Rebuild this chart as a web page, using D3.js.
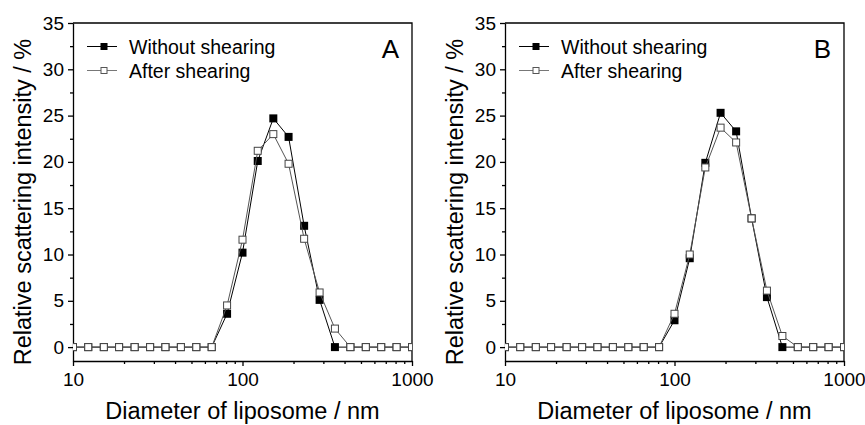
<!DOCTYPE html>
<html>
<head>
<meta charset="utf-8">
<script src="https://cdn.jsdelivr.net/npm/d3@7"></script>
<style>
  body { margin: 0; background: #fff; }
  svg { display: block; font-family: "Liberation Sans", Arial, sans-serif; }
  .axis path, .axis line { stroke: #000; stroke-width: 1.3; }
  .axis text { fill: #000; font-family: "Liberation Sans", Arial, sans-serif; }
</style>
</head>
<body>
<div id="chart"></div>
<script>
// diameters (nm) of the size classes
var diameters = [10, 12.3, 15.2, 18.7, 23.1, 28.5, 35.1, 43.3, 53.4, 65.8, 81.1,
  100, 123, 152, 187, 231, 285, 351, 433, 534, 658, 811, 1000];

// panel A
var aWithout = [0, 0, 0, 0, 0, 0, 0, 0, 0, 0, 3.6, 10.2, 20.1, 24.7, 22.7, 13.1, 5.1, 0, 0, 0, 0, 0, 0];
var aAfter   = [0, 0, 0, 0, 0, 0, 0, 0, 0, 0, 4.5, 11.6, 21.2, 23.0, 19.8, 11.7, 5.9, 2.0, 0, 0, 0, 0, 0];
// panel B
var bWithout = [0, 0, 0, 0, 0, 0, 0, 0, 0, 0, 0, 2.9, 9.6, 19.9, 25.3, 23.3, 13.9, 5.4, 0, 0, 0, 0, 0];
var bAfter   = [0, 0, 0, 0, 0, 0, 0, 0, 0, 0, 0, 3.6, 10.0, 19.4, 23.7, 22.1, 13.9, 6.1, 1.2, 0, 0, 0, 0];

var xMajor = [10, 100, 1000];
var xMinor = [20, 30, 40, 50, 60, 70, 80, 90, 200, 300, 400, 500, 600, 700, 800, 900];
var yMajor = [0, 5, 10, 15, 20, 25, 30, 35];
var yMinor = [2.5, 7.5, 12.5, 17.5, 22.5, 27.5, 32.5];

var seriesNames = ["Without shearing", "After shearing"];
var panels = [
  { letter: "A", without: aWithout, after: aAfter },
  { letter: "B", without: bWithout, after: bAfter }
];

var svgWidth = 865;
var svgHeight = 425;
var margin = { top: 23, left: 73 };
var width = 339;
var height = 338;
var panelGap = 432;

var svg = d3.select("#chart")
  .append("svg")
  .attr("width", svgWidth)
  .attr("height", svgHeight);

var xScale = d3.scaleLog().domain([10, 1000]).range([0, width]);
var yScale = d3.scaleLinear().domain([-1.5, 35]).range([height, 0]);

var msize = 8;

function drawSeries(g, values, filled) {
  var pts = diameters.map(function(d, i) { return [d, values[i]]; });
  var line = d3.line()
    .x(function(d) { return xScale(d[0]); })
    .y(function(d) { return yScale(d[1]); });

  g.append("path")
    .datum(pts)
    .attr("d", line)
    .attr("fill", "none")
    .attr("stroke", filled ? "#000" : "#555")
    .attr("stroke-width", 1);

  var s = filled ? msize : msize - 1;
  g.selectAll(null)
    .data(pts)
    .enter()
    .append("rect")
    .attr("x", function(d) { return xScale(d[0]) - s / 2; })
    .attr("y", function(d) { return yScale(d[1]) - s / 2; })
    .attr("width", s)
    .attr("height", s)
    .attr("fill", filled ? "#000" : "#fff")
    .attr("stroke", filled ? "none" : "#444")
    .attr("stroke-width", 1);
}

panels.forEach(function(p, k) {
  var ox = margin.left + k * panelGap;
  var chartGroup = svg.append("g")
    .attr("transform", "translate(" + ox + "," + margin.top + ")");

  svg.append("clipPath")
    .attr("id", "clip" + k)
    .append("rect")
    .attr("x", 0).attr("y", 0)
    .attr("width", width).attr("height", height);

  // frame top/right
  chartGroup.append("path")
    .attr("d", "M0,0H" + width + "V" + height)
    .attr("fill", "none")
    .attr("stroke", "#000")
    .attr("stroke-width", 1.3);

  // minor ticks
  chartGroup.append("g")
    .attr("class", "axis")
    .attr("transform", "translate(0," + height + ")")
    .call(d3.axisBottom(xScale).tickValues(xMinor).tickSize(3).tickFormat(""))
    .select(".domain").remove();
  chartGroup.append("g")
    .attr("class", "axis")
    .call(d3.axisLeft(yScale).tickValues(yMinor).tickSize(3).tickFormat(""))
    .select(".domain").remove();

  // major axes
  var bx = chartGroup.append("g")
    .attr("class", "axis")
    .attr("transform", "translate(0," + height + ")")
    .call(d3.axisBottom(xScale).tickValues(xMajor).tickSize(5).tickSizeOuter(0).tickPadding(7)
      .tickFormat(d3.format("d")));
  bx.selectAll("text").attr("font-size", 19);

  var ly = chartGroup.append("g")
    .attr("class", "axis")
    .call(d3.axisLeft(yScale).tickValues(yMajor).tickSize(5).tickSizeOuter(0).tickPadding(4));
  ly.selectAll("text").attr("font-size", 19);

  var plot = chartGroup.append("g").attr("clip-path", "url(#clip" + k + ")");
  drawSeries(plot, p.without, true);
  drawSeries(plot, p.after, false);

  // legend
  var legend = chartGroup.append("g");
  seriesNames.forEach(function(name, i) {
    var ly0 = 23.5 + i * 24;
    var filled = i === 0;
    legend.append("line")
      .attr("x1", 14).attr("x2", 44)
      .attr("y1", ly0).attr("y2", ly0)
      .attr("stroke", filled ? "#000" : "#777")
      .attr("stroke-width", 1);
    legend.append("rect")
      .attr("x", 31 - 3.5 + (filled ? 0 : 0.5))
      .attr("y", ly0 - 3.5 + (filled ? 0 : 0.5))
      .attr("width", filled ? 7 : 6)
      .attr("height", filled ? 7 : 6)
      .attr("fill", filled ? "#000" : "#fff")
      .attr("stroke", filled ? "none" : "#555")
      .attr("stroke-width", 1);
    legend.append("text")
      .attr("x", 56)
      .attr("y", ly0 + 7)
      .attr("font-size", 19.5)
      .text(name);
  });

  chartGroup.append("text")
    .attr("x", width - 13)
    .attr("y", 35)
    .attr("text-anchor", "end")
    .attr("font-size", 26)
    .text(p.letter);

  // axis titles
  chartGroup.append("text")
    .attr("transform", "translate(" + (31 - margin.left) + "," + (202 - margin.top) + ") rotate(-90)")
    .attr("text-anchor", "middle")
    .attr("font-size", 23.5)
    .text("Relative scattering intensity / %");

  chartGroup.append("text")
    .attr("x", width / 2)
    .attr("y", 419 - margin.top)
    .attr("text-anchor", "middle")
    .attr("font-size", 23.5)
    .text("Diameter of liposome / nm");
});
</script>
</body>
</html>
